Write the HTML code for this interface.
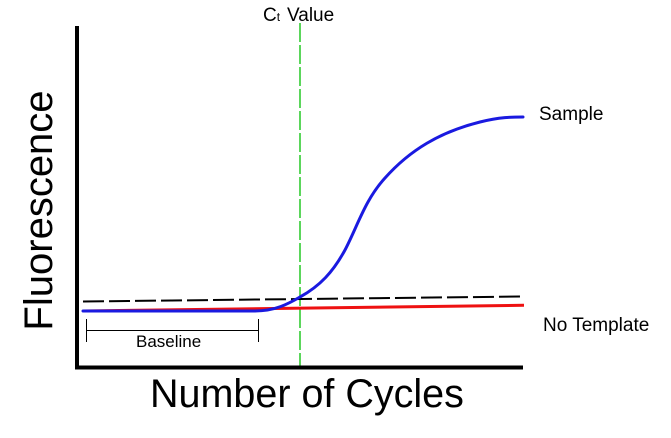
<!DOCTYPE html>
<html>
<head>
<meta charset="utf-8">
<style>
html,body{margin:0;padding:0;background:#fff;}
svg{display:block;}
text{font-family:"Liberation Sans",Arial,sans-serif;fill:#000;}
</style>
</head>
<body>
<svg width="671" height="438" viewBox="0 0 671 438" xmlns="http://www.w3.org/2000/svg">
  <rect width="671" height="438" fill="#fff"/>
  <!-- green Ct line -->
  <line x1="300" y1="23" x2="300" y2="366" stroke="#33cc33" stroke-width="1.6" stroke-dasharray="19,3"/>
  <!-- threshold dashed -->
  <line x1="83" y1="301.5" x2="523" y2="296.5" stroke="#000" stroke-width="2" stroke-dasharray="21,5"/>
  <!-- red no template -->
  <line x1="83" y1="311" x2="524" y2="305.3" stroke="#ee1111" stroke-width="3"/>
  <!-- blue sample -->
  <path fill="none" stroke="#1a1ae0" stroke-width="3" stroke-linejoin="round" stroke-linecap="round"
    d="M83,311 L255,311 C275,311 288,304 300,297 C320,286 333,272 345,250 C358,225 365,200 385,178 C410,150 440,132 480,122 C500,117 512,117 523,117"/>
  <!-- axes -->
  <line x1="77" y1="26" x2="77" y2="369.5" stroke="#000" stroke-width="4"/>
  <line x1="75" y1="367.5" x2="523" y2="367.5" stroke="#000" stroke-width="4"/>
  <!-- baseline bracket -->
  <line x1="86" y1="330.5" x2="258" y2="330.5" stroke="#000" stroke-width="1"/>
  <line x1="86.5" y1="319" x2="86.5" y2="342" stroke="#000" stroke-width="1"/>
  <line x1="258.5" y1="319" x2="258.5" y2="342" stroke="#000" stroke-width="1"/>
  <!-- labels -->
  <text x="136" y="347" font-size="17">Baseline</text>
  <text x="263" y="21" font-size="19">C<tspan font-size="12" dy="0">t</tspan><tspan x="287" font-size="19">Value</tspan></text>
  <text x="539" y="120" font-size="19">Sample</text>
  <text x="543" y="331" font-size="19">No Template</text>
  <text x="150" y="407" font-size="39.5">Number of Cycles</text>
  <text transform="translate(52,210.5) rotate(-90)" text-anchor="middle" font-size="40">Fluorescence</text>
</svg>
</body>
</html>
